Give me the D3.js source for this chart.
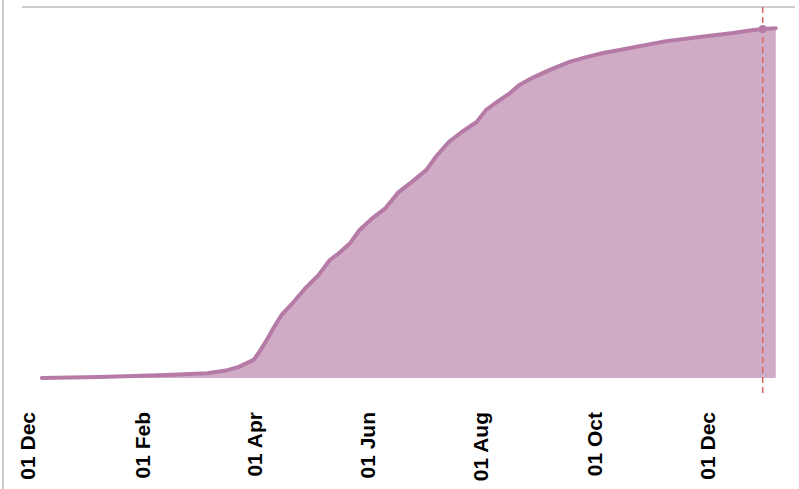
<!DOCTYPE html>
<html>
<head>
<meta charset="utf-8">
<script src="https://cdn.jsdelivr.net/npm/d3@7"></script>
<style>
  body { margin: 0; background: #fff; }
  .tick text { font-family: "Liberation Sans", Arial, sans-serif; font-weight: bold; font-size: 21px; fill: #000; }
</style>
</head>
<body>
<div id="chart-area"></div>
<script>
// cumulative share (0..100 of the axis height)
var dates = ["2019-12-09","2020-01-09","2020-02-14","2020-03-07","2020-03-17","2020-03-24","2020-04-01",
  "2020-04-04","2020-04-08","2020-04-11","2020-04-16","2020-04-22","2020-04-29","2020-05-06","2020-05-12",
  "2020-05-17","2020-05-23","2020-05-28","2020-06-04","2020-06-11","2020-06-18","2020-06-25","2020-07-03",
  "2020-07-08","2020-07-15","2020-07-22","2020-07-30","2020-08-04","2020-08-10","2020-08-17","2020-08-22",
  "2020-08-29","2020-09-05","2020-09-11","2020-09-18","2020-09-27","2020-10-06","2020-10-15","2020-10-22",
  "2020-11-09","2020-11-27","2020-12-15","2020-12-26","2020-12-31","2021-01-07"];
var values = [0, 0.3, 0.8, 1.3, 2.0, 3.0, 4.9,
  7.0, 10.2, 12.9, 17.0, 20.2, 24.3, 27.8, 31.8,
  33.7, 36.4, 39.9, 43.1, 45.8, 50.1, 52.8, 56.1,
  59.6, 63.6, 66.3, 69.0, 72.2, 74.4, 76.8, 79.0,
  80.9, 82.5, 83.8, 85.2, 86.5, 87.6, 88.4, 89.1,
  90.8, 91.9, 93.0, 93.8, 94.1, 94.3];
var tickDates = ["2019-12-01","2020-02-01","2020-04-01","2020-06-01","2020-08-01","2020-10-01","2020-12-01"];
var markerDate = "2020-12-31";

var parse = d3.timeParse("%Y-%m-%d");
var data = dates.map(function(d, i) { return { date: parse(d), value: values[i] }; });

var svg = d3.select("#chart-area").append("svg")
	.attr("width", 799)
	.attr("height", 489);

var x = d3.scaleTime().domain([parse("2019-12-01"), parse("2020-12-01")]).range([27, 707]);
var y = d3.scaleLinear().domain([0, 100]).range([378, 7]);

// frame lines
svg.append("line").attr("x1", 3).attr("y1", 0).attr("x2", 3).attr("y2", 489)
	.attr("stroke", "#cccccc").attr("stroke-width", 2);
svg.append("line").attr("x1", 22).attr("y1", y(100)).attr("x2", 795).attr("y2", y(100))
	.attr("stroke", "#cccccc").attr("stroke-width", 2);

var area = d3.area().x(function(d) { return x(d.date); }).y0(y(0)).y1(function(d) { return y(d.value); });
var line = d3.line().x(function(d) { return x(d.date); }).y(function(d) { return y(d.value); });

svg.append("path").datum(data).attr("d", area).attr("fill", "#d0abc5");
svg.append("path").datum(data).attr("d", line)
	.attr("fill", "none").attr("stroke", "#b57ba6").attr("stroke-width", 4)
	.attr("stroke-linejoin", "round").attr("stroke-linecap", "round");

var md = parse(markerDate);
var mv = values[dates.indexOf(markerDate)];
svg.append("line").attr("x1", x(md)).attr("x2", x(md)).attr("y1", y(100)).attr("y2", 393)
	.attr("stroke", "#e06666").attr("stroke-width", 1.5).attr("stroke-dasharray", "6,4");
svg.append("circle").attr("cx", x(md)).attr("cy", y(mv)).attr("r", 4).attr("fill", "#b57ba6");

var xAxis = d3.axisBottom(x)
	.tickValues(tickDates.map(parse))
	.tickFormat(d3.timeFormat("%d %b"))
	.tickSize(0);

var gx = svg.append("g").attr("transform", "translate(0,412)").call(xAxis);
gx.select(".domain").remove();
gx.selectAll("text")
	.attr("transform", "rotate(-90)")
	.attr("x", 0).attr("y", 0)
	.attr("dy", "0.35em")
	.style("text-anchor", "end");
</script>
</body>
</html>
